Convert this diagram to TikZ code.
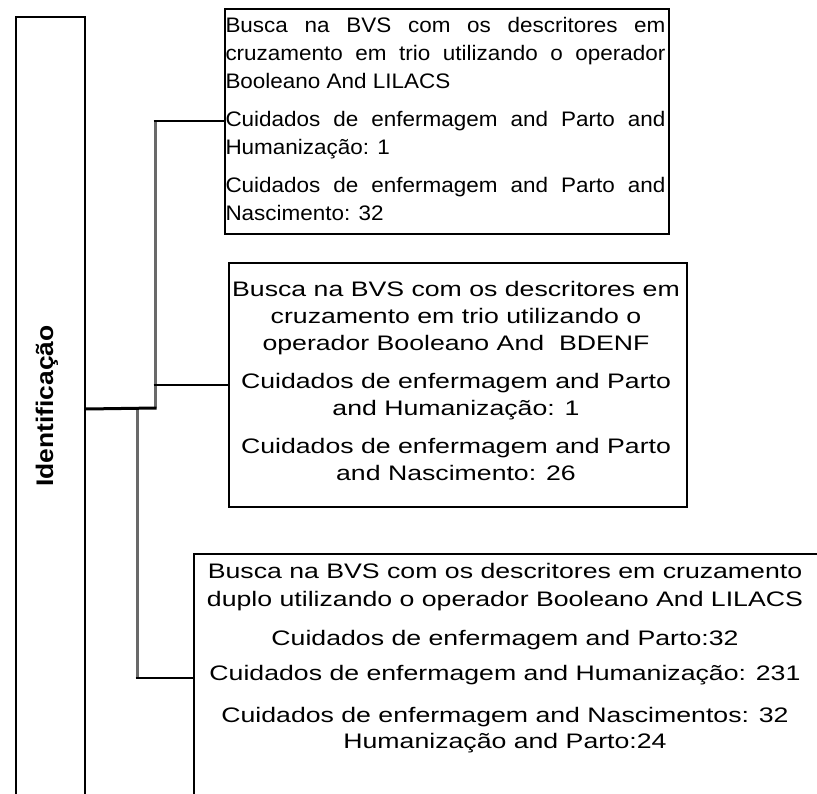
\documentclass[tikz,border=0pt]{standalone}
\usepackage{fontspec}
\setmainfont{Liberation Sans}
\newfontfamily\fa{Liberation Sans}[FakeStretch=1.07]
\newfontfamily\fb{Liberation Sans}[FakeStretch=1.27]
\newfontfamily\flab{Liberation Sans}[FakeStretch=1.1]
\tikzset{
  boxs/.style={draw=black, line width=2pt, fill=none, rectangle, inner sep=0pt},
  txt/.style={inner sep=0pt, outer sep=0pt},
  hconn/.style={draw=black, line width=2pt},
  mainconn/.style={draw=black, line width=3pt},
  vconn/.style={draw={rgb,255:red,105;green,105;blue,105}, line width=3pt},
}
\begin{document}
\begin{tikzpicture}[x=1pt,y=-1pt]
\useasboundingbox (0,0) rectangle (817,794);
\clip (0,0) rectangle (817,794);
\fill[white] (0,0) rectangle (817,794);
% boxes
\node[boxs, minimum width=69pt, minimum height=784pt, anchor=north west] (left) at (15,16) {};
\node[boxs, minimum width=444pt, minimum height=225pt, anchor=north west] (box1) at (224,8) {};
\node[boxs, minimum width=458pt, minimum height=244pt, anchor=north west] (box2) at (228,262) {};
\node[boxs, minimum width=632pt, minimum height=248pt, anchor=north west] (box3) at (193,553) {};
% junctions
\coordinate (j1) at (155,408);
\coordinate (j2) at (137,408);
% connectors
\draw[vconn] (j1) -- (j1 |- box1.west);
\draw[vconn] (j2) -- (j2 |- box3.west);
\draw[mainconn] (left.east) -- ([xshift=1.5pt]j1);
\draw[hconn] ([xshift=-1.5pt]j1 |- box1.west) -- (box1.west);
\draw[hconn] ([xshift=-1.5pt]j1 |- box2.west) -- (box2.west);
\draw[hconn] ([xshift=-1.5pt]j2 |- box3.west) -- (box3.west);
% label
\node[txt, rotate=90] (lab) at (47,406) {\flab\bfseries\fontsize{24}{28}\selectfont Identificação};
% texts
\node[txt, anchor=base west] (t1) at (225.5,33) {\parbox[t]{440pt}{\fa\fontsize{21}{28}\selectfont
\makebox[\linewidth][s]{Busca na BVS com os descritores em}\\
\makebox[\linewidth][s]{cruzamento em trio utilizando o operador}\\
Booleano And LILACS\\[10pt]
\makebox[\linewidth][s]{Cuidados de enfermagem and Parto and}\\
Humanização: 1\\[10pt]
\makebox[\linewidth][s]{Cuidados de enfermagem and Parto and}\\
Nascimento: 32}};
\node[txt, anchor=base] (t2) at (456,297) {\parbox[t]{456pt}{\centering\fb\fontsize{21}{27}\selectfont
Busca na BVS com os descritores em\\
cruzamento em trio utilizando o\\
operador Booleano And\ \ BDENF\\[11pt]
Cuidados de enfermagem and Parto\\
and Humanização: 1\\[11pt]
Cuidados de enfermagem and Parto\\
and Nascimento: 26}};
\node[txt, anchor=base] (t3) at (505,578) {\parbox[t]{620pt}{\centering\fb\fontsize{21}{28}\selectfont
Busca na BVS com os descritores em cruzamento\\
duplo utilizando o operador Booleano And LILACS\\[11pt]
Cuidados de enfermagem and Parto:32\\[7pt]
Cuidados de enfermagem and Humanização: 231\\[14pt]
Cuidados de enfermagem and Nascimentos: 32\\[-2pt]
Humanização and Parto:24}};
\end{tikzpicture}
\end{document}
